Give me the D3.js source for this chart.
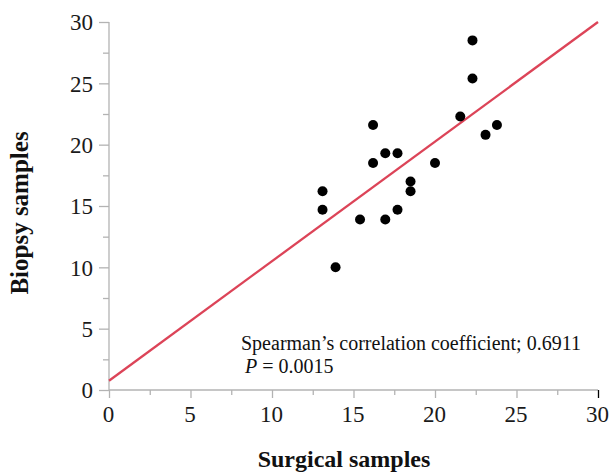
<!DOCTYPE html>
<html><head><meta charset="utf-8">
<script src="https://cdn.jsdelivr.net/npm/d3@7"></script>
<style>body{margin:0;background:#fff}svg{display:block}svg text{font-family:"Liberation Serif","Times New Roman",Times,serif}</style>
</head><body>
<script>
const surgical = [13.1, 13.1, 15.4, 16.2, 16.2, 16.95, 16.95, 17.7, 17.7, 18.5, 18.5, 20.0, 21.55, 22.3, 22.3, 23.1, 23.8, 13.9];
const biopsy   = [16.2, 14.7, 13.9, 21.6, 18.5, 19.3, 13.9, 19.3, 14.7, 17.0, 16.2, 18.5, 22.3, 28.5, 25.4, 20.8, 21.6, 10.0];
const fitLine = [[0, 0.75], [30, 30]];
const majorTicks = [0, 5, 10, 15, 20, 25, 30];
const minorTicks = [2.5, 7.5, 12.5, 17.5, 22.5, 27.5];
const annotation = ["Spearman\u2019s correlation coefficient; 0.6911", "P", " = 0.0015"];
const xTitle = "Surgical samples", yTitle = "Biopsy samples";

const W = 611, H = 475;
const svg = d3.select("body").append("svg").attr("width", W).attr("height", H);
const x = d3.scaleLinear().domain([0, 30]).range([109, 598]);
const y = d3.scaleLinear().domain([0, 30]).range([390, 22]);
const axisColor = "#b3b3b3";

svg.append("line").attr("x1", x(0)).attr("x2", x(30)).attr("y1", y(0)).attr("y2", y(0)).attr("stroke", axisColor).attr("stroke-width", 1.3);
svg.append("line").attr("x1", x(0)).attr("x2", x(0)).attr("y1", y(0)).attr("y2", y(30)).attr("stroke", axisColor).attr("stroke-width", 1.3);

const gx = svg.append("g").attr("transform", `translate(0,${y(0)})`).call(d3.axisBottom(x).tickValues(majorTicks).tickSize(8).tickFormat(d3.format("d")));
gx.select(".domain").remove();
gx.selectAll(".tick line").attr("stroke", d => d === 30 ? "#000" : axisColor).attr("stroke-width", 1.3);
gx.selectAll(".tick text").style("font-size", "23px").attr("fill", "#1a1a1a").attr("dy", "0").attr("y", 32).attr("dx", -1);
const gxm = svg.append("g").attr("transform", `translate(0,${y(0)})`).call(d3.axisBottom(x).tickValues(minorTicks).tickSize(5).tickFormat(""));
gxm.select(".domain").remove();
gxm.selectAll(".tick line").attr("stroke", axisColor).attr("stroke-width", 1.3);

const gy = svg.append("g").attr("transform", `translate(${x(0)},0)`).call(d3.axisLeft(y).tickValues(majorTicks).tickSize(10).tickFormat(d3.format("d")));
gy.select(".domain").remove();
gy.selectAll(".tick line").attr("stroke", axisColor).attr("stroke-width", 1.3);
gy.selectAll(".tick text").style("font-size", "23px").attr("fill", "#1a1a1a").attr("x", -16).attr("dy", "0.34em");
const gym = svg.append("g").attr("transform", `translate(${x(0)},0)`).call(d3.axisLeft(y).tickValues(minorTicks).tickSize(6).tickFormat(""));
gym.select(".domain").remove();
gym.selectAll(".tick line").attr("stroke", axisColor).attr("stroke-width", 1.3);

svg.append("line")
  .attr("x1", x(fitLine[0][0])).attr("y1", y(fitLine[0][1]))
  .attr("x2", x(fitLine[1][0])).attr("y2", y(fitLine[1][1]))
  .attr("stroke", "#dc4458").attr("stroke-width", 2.3);

svg.selectAll("circle.pt").data(surgical.map((s, i) => [s, biopsy[i]])).join("circle")
  .attr("class", "pt").attr("cx", d => x(d[0])).attr("cy", d => y(d[1])).attr("r", 5).attr("fill", "#000");

svg.append("text").attr("x", 241).attr("y", 350).style("font-size", "20px").attr("fill", "#111").text(annotation[0]);
const t2 = svg.append("text").attr("x", 245).attr("y", 373).style("font-size", "20px").attr("fill", "#111");
t2.append("tspan").attr("font-style", "italic").text(annotation[1]);
t2.append("tspan").text(annotation[2]);

svg.append("text").attr("x", 344).attr("y", 467).attr("text-anchor", "middle").attr("font-weight", "bold").style("font-size", "24px").attr("fill", "#111").text(xTitle);
svg.append("text").attr("transform", "translate(28,213) rotate(-90)").attr("text-anchor", "middle").attr("font-weight", "bold").style("font-size", "25px").attr("fill", "#111").text(yTitle);
</script>
</body></html>
